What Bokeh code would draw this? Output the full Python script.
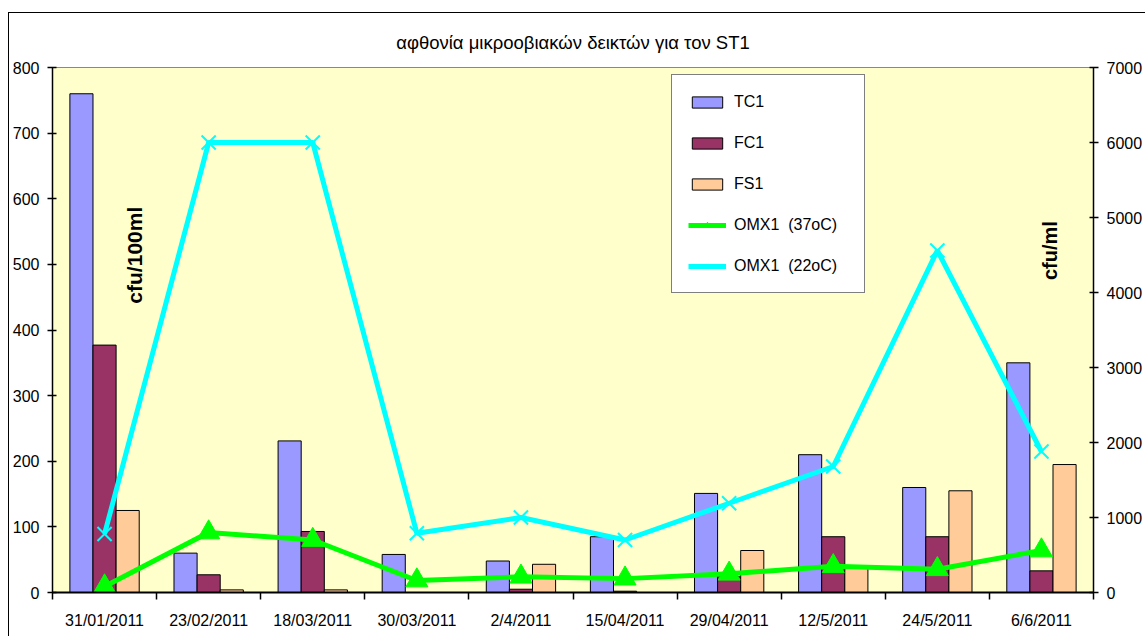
from bokeh.plotting import figure
from bokeh.models import (ColumnDataSource, Range1d, LinearAxis,
                          FixedTicker, Label, Legend, LegendItem)
from bokeh.transform import dodge
from bokeh.embed import file_html
from bokeh.resources import INLINE

dates = ["31/01/2011", "23/02/2011", "18/03/2011", "30/03/2011", "2/4/2011",
         "15/04/2011", "29/04/2011", "12/5/2011", "24/5/2011", "6/6/2011"]
tc1 = [760, 60, 231, 58, 48, 85, 151, 210, 160, 350]
fc1 = [377, 27, 93, 0, 5, 2, 24, 85, 85, 33]
fs1 = [125, 4, 4, 0, 43, 0, 64, 37, 155, 195]
omx37 = [80, 800, 700, 160, 210, 185, 250, 350, 310, 560]
omx22 = [780, 6000, 6000, 790, 1000, 700, 1190, 1680, 4560, 1880]

FONT = "Liberation Sans"
n = len(dates)
xpos = [i + 0.5 for i in range(n)]

src = ColumnDataSource(dict(x=xpos, tc1=tc1, fc1=fc1, fs1=fs1, omx37=omx37, omx22=omx22))

p = figure(x_range=Range1d(0, n), y_range=Range1d(0, 800),
           frame_width=1041, frame_height=525,
           min_border_left=41, min_border_right=54, min_border_top=54, min_border_bottom=44,
           x_axis_location=None, y_axis_location=None,
           output_backend="svg", toolbar_location=None,
           title="αφθονία μικροοβιακών δεικτών για τον ST1")
p.styles = {"border-top": "1px solid black", "border-left": "1px solid black",
            "margin-left": "8px", "margin-top": "12px"}
p.title.align = "center"
p.title.text_font = FONT
p.title.text_font_size = "18.5px"
p.title.text_font_style = "normal"
p.title.text_color = "black"
p.title.standoff = 30

p.background_fill_color = "#FFFFCC"
p.border_fill_color = "white"
p.outline_line_color = "#888888"
p.outline_line_width = 1
p.xgrid.grid_line_color = None
p.ygrid.grid_line_color = None

p.extra_y_ranges = {"right": Range1d(0, 7000)}

def style_axis(ax):
    ax.major_label_text_font = FONT
    ax.major_label_text_font_size = "16px"
    ax.major_label_text_color = "black"
    ax.axis_line_color = "black"
    ax.axis_line_width = 1.5
    ax.major_tick_line_color = "black"
    ax.major_tick_line_width = 1.5
    ax.minor_tick_line_color = None

# left axis
ly = LinearAxis(ticker=FixedTicker(ticks=list(range(0, 801, 100))))
style_axis(ly)
ly.major_tick_in = 4
ly.major_tick_out = 5
ly.major_label_standoff = 8
p.add_layout(ly, "left")

# right axis
ry = LinearAxis(y_range_name="right", ticker=FixedTicker(ticks=list(range(0, 7001, 1000))))
style_axis(ry)
ry.major_tick_in = 4
ry.major_tick_out = 5
ry.major_label_standoff = 8
p.add_layout(ry, "right")

# bottom axis: labels at category centres, ticks at category boundaries
cx = LinearAxis(ticker=FixedTicker(ticks=xpos, minor_ticks=list(range(0, n + 1))),
                major_label_overrides={x: d for x, d in zip(xpos, dates)})
style_axis(cx)
cx.axis_line_width = 2
cx.major_tick_line_color = None
cx.major_tick_out = 0
cx.major_tick_in = 0
cx.minor_tick_line_color = "black"
cx.minor_tick_line_width = 1.5
cx.minor_tick_out = 7
cx.minor_tick_in = 0
cx.major_label_standoff = 12
p.add_layout(cx, "below")

bw = 0.222
r_tc = p.vbar(x=dodge("x", -bw), top="tc1", width=bw, source=src,
              fill_color="#9999FF", line_color="black", line_width=1)
r_fc = p.vbar(x=dodge("x", 0), top="fc1", width=bw, source=src,
              fill_color="#993366", line_color="black", line_width=1)
r_fs = p.vbar(x=dodge("x", bw), top="fs1", width=bw, source=src,
              fill_color="#FFCC99", line_color="black", line_width=1)

l37 = p.line(x="x", y="omx37", y_range_name="right", source=src,
             line_color="#00FF00", line_width=5)
s37 = p.scatter(x="x", y="omx37", y_range_name="right", source=src, marker="triangle",
                size=22, fill_color="#00FF00", line_color="#00FF00")
l22 = p.line(x="x", y="omx22", y_range_name="right", source=src,
             line_color="#00FFFF", line_width=5)
s22 = p.scatter(x="x", y="omx22", y_range_name="right", source=src, marker="x",
                size=20, line_color="#00FFFF", line_width=2)

legend = Legend(items=[
    LegendItem(label="TC1", renderers=[r_tc]),
    LegendItem(label="FC1", renderers=[r_fc]),
    LegendItem(label="FS1", renderers=[r_fs]),
    LegendItem(label="OMX1  (37oC)", renderers=[l37, s37]),
    LegendItem(label="OMX1  (22oC)", renderers=[l22, s22]),
], location=(619, 299))
legend.label_text_font = FONT
legend.label_text_font_size = "16px"
legend.label_text_color = "black"
legend.glyph_width = 38
legend.glyph_height = 14
legend.label_height = 21
legend.label_width = 114
legend.spacing = 20
legend.padding = 16
legend.label_standoff = 8
legend.border_line_color = "black"
legend.border_line_width = 1.5
legend.background_fill_color = "white"
legend.background_fill_alpha = 1
p.add_layout(legend)

p.add_layout(Label(x=0.79, y=514, text="cfu/100ml", angle=1.5708, text_align="center",
                   text_baseline="middle", text_font=FONT, text_font_size="21px",
                   text_font_style="bold", text_color="black"))
p.add_layout(Label(x=9.58, y=521, text="cfu/ml", angle=1.5708, text_align="center",
                   text_baseline="middle", text_font=FONT, text_font_size="20px",
                   text_font_style="bold", text_color="black"))

open("out.html", "w").write(file_html(p, INLINE))
